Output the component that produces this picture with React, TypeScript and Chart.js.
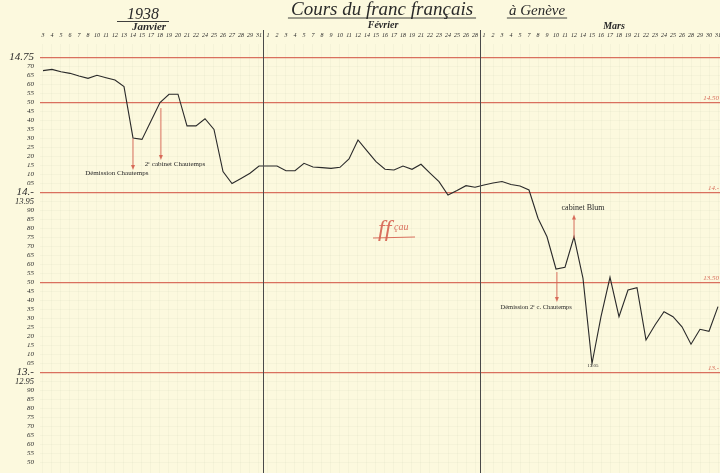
import React, { useEffect, useRef } from 'react';
import { Chart, registerables } from 'chart.js';

Chart.register(...registerables);

// ---- Data ----
const janDays = [3, 4, 5, 6, 7, 8, 10, 11, 12, 13, 14, 15, 17, 18, 19, 20, 21, 22, 24, 25, 26, 27, 28, 29, 31];
const febDays = [1, 2, 3, 4, 5, 7, 8, 9, 10, 11, 12, 14, 15, 16, 17, 18, 19, 21, 22, 23, 24, 25, 26, 28];
const marDays = [1, 2, 3, 4, 5, 7, 8, 9, 10, 11, 12, 14, 15, 16, 17, 18, 19, 21, 22, 23, 24, 25, 26, 28, 29, 30, 31];

const janRates = [
  14.677, 14.684, 14.671, 14.662, 14.647, 14.634, 14.651, 14.638, 14.625, 14.588,
  14.303, 14.295, 14.397, 14.5, 14.546, 14.546, 14.37, 14.37, 14.41, 14.35,
  14.116, 14.05, 14.078, 14.107, 14.147,
];
const febRates = [
  14.147, 14.147, 14.121, 14.121, 14.162, 14.142, 14.138, 14.134, 14.14, 14.186,
  14.292, 14.231, 14.171, 14.129, 14.125, 14.147, 14.129, 14.157, 14.108, 14.06,
  13.986, 14.011, 14.038, 14.029,
];
const marRates = [
  14.042, 14.053, 14.061, 14.044, 14.036, 14.014, 13.857, 13.754, 13.575, 13.585,
  13.754, 13.523, 13.05, 13.31, 13.529, 13.31, 13.458, 13.471, 13.181, 13.264,
  13.338, 13.31, 13.254, 13.157, 13.24, 13.229, 13.366,
];

const redLevels = [14.75, 14.5, 14.0, 13.5, 13.0];
const rightLabels = [
  { v: 14.5, t: '14.50' },
  { v: 14.0, t: '14.-' },
  { v: 13.5, t: '13.50' },
  { v: 13.0, t: '13.-' },
];
const yMajorLabels: Record<string, string> = {
  '14.75': '14.75',
  '14.00': '14.-',
  '13.95': '13.95',
  '13.00': '13.-',
  '12.95': '12.95',
};
const yTickValues: number[] = [];
for (let k = 1250; k <= 1475; k += 5) yTickValues.push(k / 100);

// annotations in data coordinates (index, value)
const notes = [
  { text: 'Démission Chautemps', at: 10.0, from: 14.3, to: 14.125, tx: 8.2, ty: 14.108, size: 7 },
  { text: '2ᵉ cabinet Chautemps', at: 13.1, from: 14.469, to: 14.181, tx: 14.67, ty: 14.158, size: 7 },
  { text: 'cabinet Blum', at: 59.0, from: 13.745, to: 13.878, tx: 60.0, ty: 13.914, size: 8 },
  { text: 'Démission 2ᵉ c. Chautemps', at: 57.1, from: 13.558, to: 13.392, tx: 54.8, ty: 13.364, size: 6.5 },
];
const minNote = { text: '13.05', at: 61.1, v: 13.036 };

const dayLabels = [...janDays, ...febDays, ...marDays].map(String);
const rates = [...janRates, ...febRates, ...marRates];
const monthBreaks = [janDays.length - 0.5, janDays.length + febDays.length - 0.5];

const PAPER = '#fcf9de';
const RED = 'rgba(214, 100, 82, 0.92)';
const INK = '#2a2a2a';
const FAINT = 'rgba(175, 185, 150, 0.09)';
const FF = '"Liberation Serif", "DejaVu Serif", serif';

function drawArrow(ctx: CanvasRenderingContext2D, x: number, y1: number, y2: number) {
  const d = y2 > y1 ? 1 : -1;
  ctx.beginPath();
  ctx.moveTo(x, y1);
  ctx.lineTo(x, y2 - d * 3);
  ctx.stroke();
  ctx.beginPath();
  ctx.moveTo(x - 2, y2 - d * 5);
  ctx.lineTo(x, y2);
  ctx.lineTo(x + 2, y2 - d * 5);
  ctx.closePath();
  ctx.fill();
}

function underlinedText(ctx: CanvasRenderingContext2D, text: string, cx: number, base: number, font: string, uy: number, ext: number) {
  ctx.font = font;
  ctx.textAlign = 'center';
  ctx.textBaseline = 'alphabetic';
  ctx.fillText(text, cx, base);
  const w = ctx.measureText(text).width;
  ctx.beginPath();
  ctx.moveTo(cx - w / 2 - ext, uy);
  ctx.lineTo(cx + w / 2 + ext, uy);
  ctx.stroke();
}

const paperPlugin = {
  id: 'paper',
  beforeDraw(chart: any) {
    const { ctx, width, height } = chart;
    ctx.save();
    ctx.fillStyle = PAPER;
    ctx.fillRect(0, 0, width, height);
    ctx.restore();
  },
  afterDraw(chart: any) {
    const { ctx, scales, height } = chart;
    const xs = scales.x;
    const ys = scales.y;
    ctx.save();
    // month separators
    ctx.strokeStyle = '#4a4a4a';
    ctx.lineWidth = 1;
    monthBreaks.forEach((b) => {
      const x = Math.round(xs.getPixelForValue(b)) + 0.5;
      ctx.beginPath();
      ctx.moveTo(x, 30);
      ctx.lineTo(x, height);
      ctx.stroke();
    });

    // headings
    ctx.fillStyle = INK;
    ctx.strokeStyle = INK;
    ctx.lineWidth = 0.9;
    underlinedText(ctx, '1938', 143, 19, `italic 16px ${FF}`, 21.5, 10);
    ctx.font = `italic bold 11px ${FF}`;
    ctx.textAlign = 'center';
    ctx.fillText('Janvier', 149, 30);
    underlinedText(ctx, 'Cours du franc français', 382, 15, `italic 19px ${FF}`, 18, 3);
    underlinedText(ctx, 'à Genève', 537, 15, `italic 15px ${FF}`, 18, 2);
    ctx.font = `italic bold 10px ${FF}`;
    ctx.textAlign = 'center';
    ctx.fillText('Février', 383, 28);
    ctx.fillText('Mars', 614, 29);

    // right-hand red labels
    ctx.fillStyle = RED;
    ctx.font = `italic 7px ${FF}`;
    ctx.textAlign = 'right';
    ctx.textBaseline = 'alphabetic';
    rightLabels.forEach((r) => {
      ctx.fillText(r.t, 719, ys.getPixelForValue(r.v) - 3);
    });

    // annotations
    ctx.strokeStyle = RED;
    ctx.fillStyle = RED;
    ctx.lineWidth = 1;
    notes.forEach((n) => {
      drawArrow(ctx, xs.getPixelForValue(n.at), ys.getPixelForValue(n.from), ys.getPixelForValue(n.to));
    });
    ctx.fillStyle = INK;
    ctx.textAlign = 'center';
    ctx.textBaseline = 'middle';
    notes.forEach((n) => {
      ctx.font = `${n.size}px ${FF}`;
      ctx.fillText(n.text, xs.getPixelForValue(n.tx), ys.getPixelForValue(n.ty));
    });
    ctx.font = `5px ${FF}`;
    ctx.fillText(minNote.text, xs.getPixelForValue(minNote.at), ys.getPixelForValue(minNote.v));

    // red signature
    ctx.fillStyle = RED;
    ctx.strokeStyle = RED;
    ctx.textAlign = 'left';
    ctx.textBaseline = 'alphabetic';
    ctx.font = `italic 24px ${FF}`;
    ctx.fillText('ff', 378, 236);
    ctx.font = `italic 10px ${FF}`;
    ctx.fillText('çau', 394, 230);
    ctx.beginPath();
    ctx.moveTo(373, 238);
    ctx.lineTo(415, 237);
    ctx.stroke();
    ctx.restore();
  },
};

export default function App() {
  const ref = useRef<HTMLCanvasElement>(null);
  useEffect(() => {
    if (!ref.current) return;
    const chart = new Chart(ref.current, {
      type: 'line',
      data: {
        datasets: [
          {
            label: 'Cours du franc français à Genève',
            data: rates.map((r, i) => ({ x: i, y: r })),
            borderColor: INK,
            borderWidth: 1.1,
            pointRadius: 0,
            tension: 0,
            fill: false,
          },
        ],
      },
      options: {
        responsive: false,
        animation: false,
        events: [],
        layout: { padding: 0 },
        plugins: { legend: { display: false }, tooltip: { enabled: false }, title: { display: false } },
        scales: {
          x: {
            type: 'linear',
            position: 'top',
            min: -0.333,
            max: 75.222,
            afterBuildTicks: (axis: any) => {
              axis.ticks = dayLabels.map((_, i) => ({ value: i }));
            },
            afterFit: (axis: any) => {
              axis.height = 44;
              axis.paddingLeft = 0;
              axis.paddingRight = 0;
            },
            ticks: {
              autoSkip: false,
              maxRotation: 0,
              minRotation: 0,
              padding: 5,
              color: INK,
              font: { family: FF, size: 6, style: 'italic' },
              callback: (v: any) => dayLabels[Number(v)] ?? '',
            },
            grid: { color: FAINT, drawTicks: false, lineWidth: 1 },
            border: { display: false },
          },
          y: {
            type: 'linear',
            position: 'left',
            min: 12.4417,
            max: 14.825,
            afterBuildTicks: (axis: any) => {
              axis.ticks = yTickValues.map((v) => ({ value: v }));
            },
            afterFit: (axis: any) => {
              axis.width = 40;
              axis.paddingTop = 0;
              axis.paddingBottom = 0;
            },
            ticks: {
              autoSkip: false,
              padding: 6,
              color: INK,
              font: (c: any) => {
                const k = c.tick ? Number(c.tick.value).toFixed(2) : '';
                const big = k === '14.75' || k === '14.00' || k === '13.00';
                const mid = k === '13.95' || k === '12.95';
                return { family: FF, style: 'italic', size: big ? 11 : mid ? 8.5 : 7 };
              },
              callback: (v: any) => {
                const k = Number(v).toFixed(2);
                return yMajorLabels[k] ?? k.slice(-2);
              },
            },
            grid: {
              drawTicks: false,
              color: (c: any) => {
                const v = c.tick ? Math.round(c.tick.value * 100) / 100 : NaN;
                return redLevels.includes(v) ? RED : FAINT;
              },
              lineWidth: (c: any) => {
                const v = c.tick ? Math.round(c.tick.value * 100) / 100 : NaN;
                return redLevels.includes(v) ? 1.3 : 1;
              },
            },
            border: { display: false },
          },
        },
      },
      plugins: [paperPlugin],
    } as any);
    return () => chart.destroy();
  }, []);

  return (
    <div style={{ position: 'fixed', left: 0, top: 0, width: 720, height: 473, background: PAPER }}>
      <canvas ref={ref} width={720} height={473} style={{ display: 'block', width: 720, height: 473 }} />
    </div>
  );
}
